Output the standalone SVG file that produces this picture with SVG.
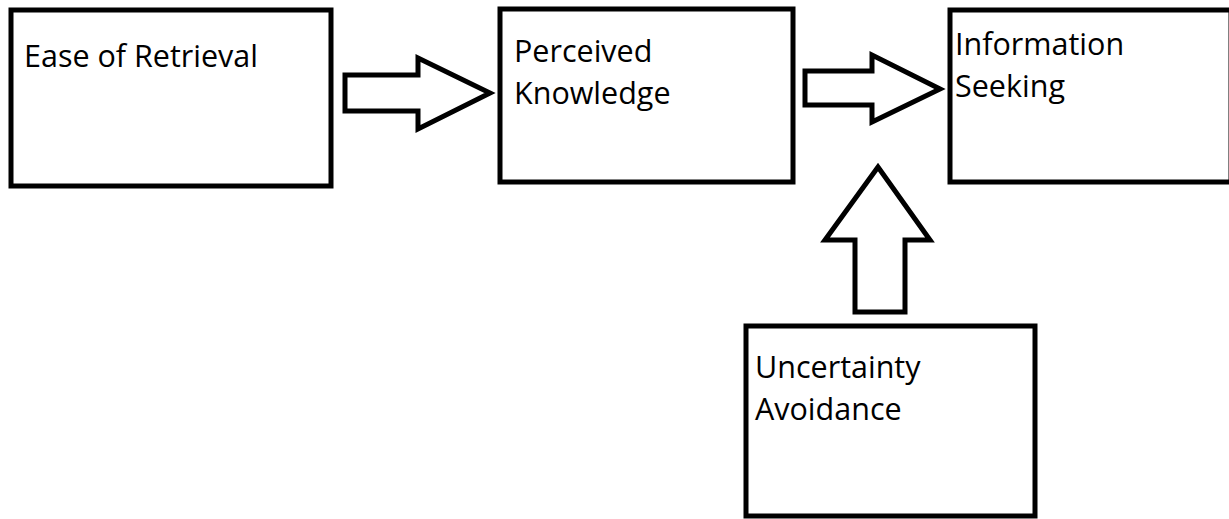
<svg xmlns="http://www.w3.org/2000/svg" width="1229" height="519" viewBox="0 0 1229 519">
<style>
.box{fill:#fff;stroke:#000;stroke-width:5}
.arrow{fill:#fff;stroke:#000;stroke-width:5;stroke-linejoin:miter}
text{font-family:"Open Sans","Liberation Sans",sans-serif;font-size:30.5px;fill:#000}
</style>
<rect width="1229" height="519" fill="#fff"/>
<g id="ease">
<rect class="box" x="11" y="10" width="320" height="176"/>
<text x="24" y="67">Ease of Retrieval</text>
</g>
<g id="perceived">
<rect class="box" x="500" y="9" width="293" height="173"/>
<text x="514" y="62">Perceived</text>
<text x="514" y="104">Knowledge</text>
</g>
<g id="info">
<rect class="box" x="950" y="10" width="281" height="172"/>
<text x="955" y="55">Information</text>
<text x="955" y="97">Seeking</text>
</g>
<g id="uncertainty">
<rect class="box" x="746" y="326" width="289" height="190"/>
<text x="755" y="378">Uncertainty</text>
<text x="755" y="420">Avoidance</text>
</g>
<g id="connectors">
<polygon class="arrow" points="345,75 418,75 418,58 490,93 418,129 418,111 345,111"/>
<polygon class="arrow" points="805,71 872,71 872,55 940,89 872,122 872,105 805,105"/>
<polygon class="arrow" points="855,312 855,240 825,240 878,167 930,240 905,240 905,312"/>
</g>
</svg>
